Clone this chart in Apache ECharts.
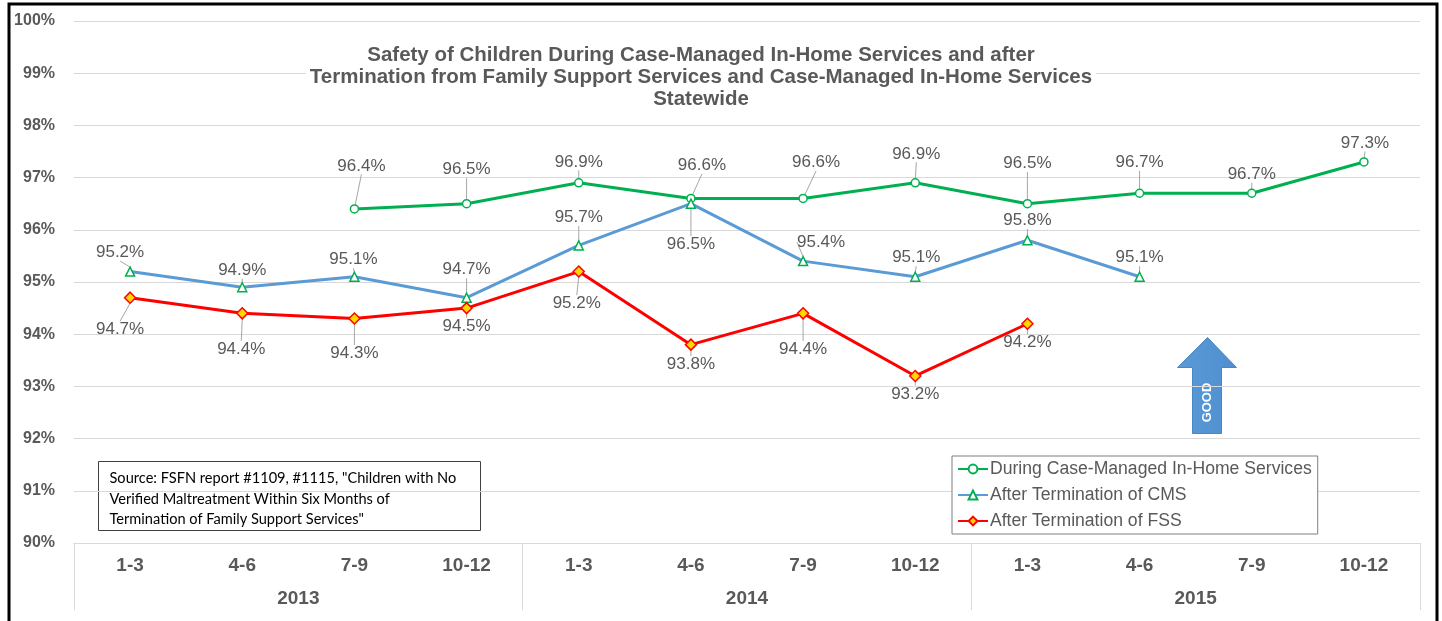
<!DOCTYPE html>
<html>
<head>
<meta charset="utf-8">
<title>Safety of Children – Statewide</title>
<script src="https://cdn.jsdelivr.net/npm/echarts@6/dist/echarts.min.js"></script>
<style>
  html, body { margin: 0; padding: 0; background: #fff; }
  #chart { width: 1442px; height: 621px; }
</style>
</head>
<body>
<div id="chart"></div>
<script>
// Quarters within each year, and the years they belong to
const quarters = ['1-3', '4-6', '7-9', '10-12', '1-3', '4-6', '7-9', '10-12', '1-3', '4-6', '7-9', '10-12'];
const years = ['2013', '2014', '2015'];

// Percent of children with no verified maltreatment
const duringInHome = [null, null, 96.4, 96.5, 96.9, 96.6, 96.6, 96.9, 96.5, 96.7, 96.7, 97.3];
const afterCMS = [95.2, 94.9, 95.1, 94.7, 95.7, 96.5, 95.4, 95.1, 95.8, 95.1, null, null];
const afterFSS = [94.7, 94.4, 94.3, 94.5, 95.2, 93.8, 94.4, 93.2, 94.2, null, null, null];

const seriesNames = ['During Case-Managed In-Home Services', 'After Termination of CMS', 'After Termination of FSS'];

// Label placement relative to each marker (pixels: [dx, dy])
const labelShift = [
  [null, null, [7, -43], [0, -34], [0, -21], [11, -33], [13, -36], [1, -29], [0, -40], [0, -31], [0, -19], [1, -19]],
  [[-10, -19], [0, -17], [-1, -17], [0, -28], [0, -28], [0, 41], [18, -19], [1, -19], [0, -20], [0, -19], null, null],
  [[-10, 32], [-1, 36], [0, 35], [0, 18], [-2, 32], [0, 20], [0, 36], [0, 18], [0, 19], null, null, null]
];

const GRAY = '#595959';
const GRID = '#d9d9d9';
const FONT = '"Liberation Sans", Arial, sans-serif';

function toData(arr) {
  return arr.map(v => (v === null ? '-' : v));
}

function makeLayout(seriesIdx) {
  return function (p) {
    const s = labelShift[seriesIdx][p.dataIndex];
    if (!s) return {};
    const cx = p.rect.x + p.rect.width / 2;
    const cy = p.rect.y + p.rect.height / 2;
    return { x: cx + s[0], y: cy + s[1], align: 'center', verticalAlign: 'middle' };
  };
}

function lineSeries(idx, values, lineColor, symbol, size, fill, border) {
  return {
    name: seriesNames[idx],
    type: 'line',
    data: toData(values),
    symbol: symbol,
    symbolSize: size,
    showAllSymbol: true,
    lineStyle: { color: lineColor, width: 3 },
    itemStyle: { color: fill, borderColor: border, borderWidth: 1.5 },
    label: {
      show: true,
      formatter: p => p.value.toFixed(1) + '%',
      fontFamily: FONT,
      fontSize: 17,
      color: GRAY
    },
    labelLayout: makeLayout(idx),
    labelLine: { show: true, lineStyle: { color: '#a6a6a6', width: 1 } },
    emphasis: { disabled: true },
    z: 3
  };
}

const chart = echarts.init(document.getElementById('chart'), null, { renderer: 'canvas' });

chart.setOption({
  animation: false,
  backgroundColor: '#ffffff',
  grid: { left: 74, right: 22, top: 21, bottom: 78 },
  legend: {
    orient: 'vertical',
    left: 952,
    top: 456,
    padding: [3, 6, 3, 5],
    itemGap: 6,
    itemWidth: 30,
    itemHeight: 11,
    borderColor: '#7f7f7f',
    borderWidth: 1,
    backgroundColor: '#ffffff',
    textStyle: { fontFamily: FONT, fontSize: 17.6, color: GRAY, lineHeight: 20, padding: [0, 0, 0, -3] },
    data: seriesNames
  },
  xAxis: [
    {
      type: 'category',
      data: quarters,
      boundaryGap: true,
      axisLine: { show: true, lineStyle: { color: GRID, width: 1 } },
      axisTick: { show: false },
      axisLabel: { fontFamily: FONT, fontSize: 19, fontWeight: 'bold', color: GRAY, margin: 13, interval: 0 },
      splitLine: { show: false }
    },
    {
      type: 'category',
      data: years,
      position: 'bottom',
      offset: 0,
      boundaryGap: true,
      axisLine: { show: false },
      axisTick: { show: true, length: 67, lineStyle: { color: GRID, width: 1 } },
      axisLabel: { fontFamily: FONT, fontSize: 19, fontWeight: 'bold', color: GRAY, margin: 46 },
      splitLine: { show: false }
    }
  ],
  yAxis: {
    type: 'value',
    min: 90,
    max: 100,
    interval: 1,
    axisLine: { show: false },
    axisTick: { show: false },
    axisLabel: { formatter: '{value}%', fontFamily: FONT, fontSize: 16, fontWeight: 'bold', color: GRAY, margin: 19 },
    splitLine: { lineStyle: { color: GRID, width: 1 } }
  },
  series: [
    lineSeries(0, duringInHome, '#00B050', 'circle', 8, '#ffffff', '#00B050'),
    lineSeries(1, afterCMS, '#5B9BD5', 'triangle', 9, '#ffffff', '#00B050'),
    lineSeries(2, afterFSS, '#FF0000', 'diamond', 11, '#FFD700', '#FF0000')
  ],
  graphic: [
    // Chart title on a white panel
    {
      type: 'text',
      x: 701,
      y: 44,
      z: 1,
      style: {
        text: 'Safety of Children During Case-Managed In-Home Services and after\nTermination from Family Support Services and Case-Managed In-Home Services\nStatewide',
        align: 'center',
        verticalAlign: 'top',
        fontFamily: FONT,
        fontSize: 20.5,
        fontWeight: 'bold',
        lineHeight: 22,
        fill: GRAY,
        backgroundColor: '#ffffff',
        padding: [0, 4]
      }
    },
    // Source note
    {
      type: 'group',
      left: 98,
      top: 461,
      z: 4,
      children: [
        {
          type: 'rect',
          shape: { x: 0, y: 0, width: 382, height: 69 },
          style: { fill: '#ffffff', stroke: '#404040', lineWidth: 1 }
        },
        {
          type: 'text',
          x: 11,
          y: 7,
          style: {
            text: 'Source: FSFN report #1109, #1115, "Children with No\nVerified Maltreatment Within Six Months of\nTermination of Family Support Services"',
            fontFamily: 'Lato, "Open Sans", sans-serif',
            fontSize: 14.6,
            lineHeight: 20.5,
            fill: '#000000'
          }
        }
      ]
    },
    // "GOOD" arrow
    {
      type: 'group',
      left: 1177,
      top: 337,
      z: 4,
      children: [
        {
          type: 'polygon',
          shape: { points: [[30, 0], [59, 30], [44, 30], [44, 96], [15, 96], [15, 30], [0, 30]] },
          style: {
            fill: new echarts.graphic.LinearGradient(0, 0, 1, 0, [
              { offset: 0, color: '#5a9ad8' },
              { offset: 1, color: '#4f8fcf' }
            ]),
            stroke: '#4a86c0',
            lineWidth: 1
          }
        },
        {
          type: 'text',
          x: 30,
          y: 65,
          rotation: Math.PI / 2,
          style: {
            text: 'GOOD',
            align: 'center',
            verticalAlign: 'middle',
            fontFamily: FONT,
            fontSize: 13,
            fontWeight: 'bold',
            fill: '#ffffff'
          }
        }
      ]
    },
    // Outer frame
    {
      type: 'rect',
      z: 10,
      shape: { x: 9, y: 4, width: 1428, height: 700 },
      style: { fill: 'none', stroke: '#000000', lineWidth: 3 }
    }
  ]
});
</script>
</body>
</html>
